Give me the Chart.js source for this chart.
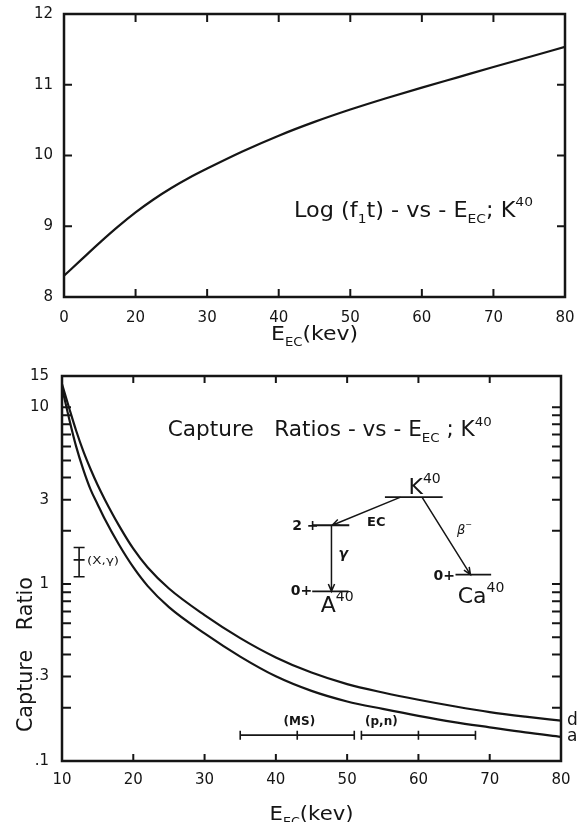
<!DOCTYPE html>
<html>
<head>
<meta charset="utf-8">
<script src="https://cdn.jsdelivr.net/npm/chart.js@4.4.0/dist/chart.umd.min.js"></script>
<style>
    html, body { margin: 0; padding: 0; background: #ffffff; }
    #topPanel { position: absolute; left: 0; top: 0; width: 579px; height: 360px; }
    #bottomPanel { position: absolute; left: 0; top: 345px; width: 579px; height: 477px; }
</style>
</head>
<body>
<div id="topPanel"><canvas id="ftChart" width="579" height="360"></canvas></div>
<div id="bottomPanel"><canvas id="ratioChart" width="579" height="477"></canvas></div>
<script>
// Top panel: Log(f1 t) vs E_EC
const ftEnergy = [10, 12.5, 15, 17.5, 20, 22.5, 25, 27.5, 30, 35, 40, 45, 50, 55, 60, 65, 70, 75, 80];
const ftLog = [8.30, 8.535, 8.768, 8.99, 9.195, 9.378, 9.54, 9.685, 9.815, 10.06, 10.28, 10.475, 10.65, 10.81, 10.96, 11.105, 11.25, 11.393, 11.535];
const ftXTicks = [10, 20, 30, 40, 50, 60, 70, 80];
const ftXLabels = ['0', '20', '30', '40', '50', '60', '70', '80'];
const ftYTicks = [8, 9, 10, 11, 12];
const ftYLabels = ['8', '9', '10', '11', '12'];

// Bottom panel: capture ratios d and a vs E_EC
const ratioEnergy = [10, 11, 12, 13, 14, 15, 16, 18, 20, 22, 25, 30, 35, 40, 45, 50, 55, 60, 65, 70, 75, 80];
const ratioD = [13.49, 9.89, 7.33, 5.62, 4.47, 3.63, 3.01, 2.14, 1.585, 1.245, 0.944, 0.668, 0.495, 0.385, 0.316, 0.272, 0.244, 0.222, 0.204, 0.189, 0.178, 0.169];
const ratioA = [12.88, 8.61, 5.96, 4.42, 3.43, 2.82, 2.33, 1.667, 1.245, 0.977, 0.741, 0.526, 0.389, 0.301, 0.249, 0.217, 0.197, 0.180, 0.166, 0.155, 0.145, 0.137];
const curveNames = ['d', 'a'];
const ratioXTicks = [10, 20, 30, 40, 50, 60, 70, 80];
const ratioXLabels = ['10', '20', '30', '40', '50', '60', '70', '80'];
const ratioYTicks = [0.1, 0.3, 1, 3, 10, 15];
const ratioYLabels = ['.1', '.3', '1', '3', '10', '15'];
const ratioYMarks = [0.2, 0.3, 0.4, 0.5, 0.6, 0.7, 0.8, 0.9, 1, 2, 3, 4, 5, 6, 7, 8, 9, 10];

// measured ranges (MS), (p,n) and the (X,gamma) point
const rangeNames = ['(MS)', '(p,n)'];
const rangeLow = [35, 52];
const rangeMid = [43, 60];
const rangeHigh = [51, 68];
const rangeNameX = [43.3, 54.8];
const rangeLevel = 0.14;
const xgEnergy = 12.4;
const xgLow = 1.10;
const xgMid = 1.37;
const xgHigh = 1.61;

// decay scheme of K40 (energy / ratio coordinates)
const levelX0 = [55.3, 45.2, 45.1, 65.2];
const levelX1 = [63.4, 50.3, 50.2, 70.2];
const levelY = [3.1, 2.15, 0.91, 1.13];
const arrowX0 = [57.5, 47.8, 60.5];
const arrowY0 = [3.1, 2.15, 3.1];
const arrowX1 = [47.9, 47.8, 67.3];
const arrowY1 = [2.15, 0.91, 1.13];

const ink = '#151515';
const face = '"DejaVu Sans", sans-serif';

// text with sub/superscripts, optionally squeezed to a width
function drawRich(ctx, parts, x, y, size, align, fitWidth, style) {
    const small = Math.round(size * 0.62);
    const fontFor = k => `${style || ''} ${k ? small : size}px ${face}`;
    let total = 0;
    const widths = parts.map(([t, k]) => {
        ctx.font = fontFor(k);
        const w = ctx.measureText(t).width;
        total += w;
        return w;
    });
    const sx = fitWidth ? fitWidth / total : 1;
    const start = align === 'center' ? -total * sx / 2 : (align === 'right' ? -total * sx : 0);
    ctx.save();
    ctx.translate(x + start, y);
    ctx.scale(sx, 1);
    ctx.fillStyle = ink;
    ctx.textAlign = 'left';
    ctx.textBaseline = 'alphabetic';
    let cx = 0;
    parts.forEach(([t, k], i) => {
        ctx.font = fontFor(k);
        const dy = k === 'sub' ? size * 0.28 : (k === 'sup' ? -size * 0.5 : 0);
        ctx.fillText(t, cx, dy);
        cx += widths[i];
    });
    ctx.restore();
}

// box round the plot with inward ticks
function drawFrame(chart, xMarks, yMarks, xLen, yLen) {
    const { ctx, chartArea: a, scales: { x, y } } = chart;
    ctx.save();
    ctx.strokeStyle = ink;
    ctx.lineWidth = 2.5;
    ctx.strokeRect(a.left, a.top, a.right - a.left, a.bottom - a.top);
    ctx.lineWidth = 2;
    ctx.beginPath();
    xMarks.forEach(v => {
        const px = x.getPixelForValue(v);
        ctx.moveTo(px, a.bottom); ctx.lineTo(px, a.bottom - xLen);
        ctx.moveTo(px, a.top); ctx.lineTo(px, a.top + xLen);
    });
    yMarks.forEach(v => {
        const py = y.getPixelForValue(v);
        ctx.moveTo(a.left, py); ctx.lineTo(a.left + yLen, py);
        ctx.moveTo(a.right, py); ctx.lineTo(a.right - yLen, py);
    });
    ctx.stroke();
    ctx.restore();
}

function drawArrow(ctx, x0, y0, x1, y1) {
    const ang = Math.atan2(y1 - y0, x1 - x0);
    const head = 8;
    ctx.beginPath();
    ctx.moveTo(x0, y0);
    ctx.lineTo(x1, y1);
    ctx.moveTo(x1 - head * Math.cos(ang - 0.4), y1 - head * Math.sin(ang - 0.4));
    ctx.lineTo(x1, y1);
    ctx.lineTo(x1 - head * Math.cos(ang + 0.4), y1 - head * Math.sin(ang + 0.4));
    ctx.stroke();
}

const baseFont = { family: face, size: 15 };

// ---------- top chart ----------
const topDecor = {
    id: 'topDecor',
    afterDraw(chart) {
        const { ctx, chartArea: a } = chart;
        drawFrame(chart, ftXTicks.slice(1, -1), ftYTicks.slice(1, -1), 8, 8);
        const w = a.right - a.left, h = a.bottom - a.top;
        drawRich(ctx, [['Log (f'], ['1', 'sub'], ['t) - vs - E'], ['EC', 'sub'], ['; K'], ['40', 'sup']],
            a.left + 0.459 * w, a.top + 0.716 * h, 21, 'left', 239);
        drawRich(ctx, [['E'], ['EC', 'sub'], ['(kev)']], a.left + 0.5 * w, a.bottom + 43, 20, 'center', 87);
    }
};

new Chart(document.getElementById('ftChart'), {
    type: 'line',
    data: {
        datasets: [{
            data: ftEnergy.map((e, i) => ({ x: e, y: ftLog[i] })),
            borderColor: ink,
            borderWidth: 2.2,
            pointRadius: 0,
            cubicInterpolationMode: 'monotone'
        }]
    },
    options: {
        responsive: false,
        devicePixelRatio: 1,
        animation: false,
        layout: { padding: { left: 0, top: 14, right: 14, bottom: 0 } },
        plugins: { legend: { display: false }, tooltip: { enabled: false } },
        scales: {
            x: {
                type: 'linear', min: 10, max: 80,
                grid: { display: false }, border: { display: false },
                afterBuildTicks: s => { s.ticks = ftXTicks.map(v => ({ value: v })); },
                afterFit: s => { s.height = 63; },
                ticks: { color: ink, font: baseFont, padding: 4, maxRotation: 0,
                    callback: (v, i) => ftXLabels[i] }
            },
            y: {
                min: 8, max: 12,
                grid: { display: false }, border: { display: false },
                afterBuildTicks: s => { s.ticks = ftYTicks.map(v => ({ value: v })); },
                afterFit: s => { s.width = 64; },
                ticks: { color: ink, font: baseFont, padding: 3,
                    callback: (v, i) => ftYLabels[i] }
            }
        }
    },
    plugins: [topDecor]
});

// ---------- bottom chart ----------
const bottomDecor = {
    id: 'bottomDecor',
    afterDraw(chart) {
        const { ctx, chartArea: a, scales: { x, y } } = chart;
        const w = a.right - a.left, h = a.bottom - a.top;
        drawFrame(chart, ratioXTicks.slice(1, -1), ratioYMarks, 7, 9);

        // titles
        drawRich(ctx, [['Capture   Ratios - vs - E'], ['EC', 'sub'], [' ; K'], ['40', 'sup']],
            a.left + 0.212 * w, a.top + 0.156 * h, 21, 'left', 324);
        drawRich(ctx, [['E'], ['EC', 'sub'], ['(kev)']], a.left + 0.5 * w, a.bottom + 59, 20, 'center', 84);
        ctx.save();
        ctx.translate(31.5, a.top + 0.7236 * h);
        ctx.rotate(-Math.PI / 2);
        drawRich(ctx, [['Capture   Ratio']], 0, 0, 21, 'center', 155);
        ctx.restore();

        // curve names at the right edge
        ctx.save();
        ctx.fillStyle = ink;
        ctx.font = `17px ${face}`;
        ctx.textAlign = 'left';
        ctx.textBaseline = 'middle';
        chart.data.datasets.forEach((ds, i) => {
            const last = ds.data[ds.data.length - 1];
            ctx.fillText(curveNames[i], a.right + 6, y.getPixelForValue(last.y));
        });
        ctx.restore();

        ctx.save();
        ctx.strokeStyle = ink;
        ctx.lineWidth = 1.6;
        // (MS) and (p,n) ranges
        const py = y.getPixelForValue(rangeLevel);
        rangeNames.forEach((name, i) => {
            const x0 = x.getPixelForValue(rangeLow[i]);
            const x1 = x.getPixelForValue(rangeHigh[i]);
            const xm = x.getPixelForValue(rangeMid[i]);
            ctx.beginPath();
            ctx.moveTo(x0, py); ctx.lineTo(x1, py);
            [x0, xm, x1].forEach(px => { ctx.moveTo(px, py - 4.5); ctx.lineTo(px, py + 4.5); });
            ctx.stroke();
            drawRich(ctx, [[name]], x.getPixelForValue(rangeNameX[i]), py - 10, 12, 'center', null, 'bold');
        });
        // (X,gamma) bar
        const gx = x.getPixelForValue(xgEnergy);
        const gy0 = y.getPixelForValue(xgLow), gy1 = y.getPixelForValue(xgHigh), gym = y.getPixelForValue(xgMid);
        ctx.beginPath();
        ctx.moveTo(gx, gy0); ctx.lineTo(gx, gy1);
        [gy0, gym, gy1].forEach(p => { ctx.moveTo(gx - 5.5, p); ctx.lineTo(gx + 5.5, p); });
        ctx.stroke();
        drawRich(ctx, [['(X,γ)']], gx + 8, gym + 4, 11, 'left', 32);

        // decay scheme
        ctx.lineWidth = 1.8;
        ctx.beginPath();
        levelY.forEach((lv, i) => {
            const ly = y.getPixelForValue(lv);
            ctx.moveTo(x.getPixelForValue(levelX0[i]), ly);
            ctx.lineTo(x.getPixelForValue(levelX1[i]), ly);
        });
        ctx.stroke();
        ctx.lineWidth = 1.5;
        arrowX0.forEach((ax, i) => {
            drawArrow(ctx, x.getPixelForValue(ax), y.getPixelForValue(arrowY0[i]),
                x.getPixelForValue(arrowX1[i]), y.getPixelForValue(arrowY1[i]));
        });
        ctx.restore();

        const at = (ex, ry) => [x.getPixelForValue(ex), y.getPixelForValue(ry)];
        let p;
        p = at(58.6, 3.21); drawRich(ctx, [['K'], ['40', 'sup']], p[0], p[1], 22, 'left');
        p = at(42.3, 2.01); drawRich(ctx, [['2 +']], p[0], p[1], 14, 'left', null, 'bold');
        p = at(52.8, 2.12); drawRich(ctx, [['EC']], p[0], p[1], 13, 'left', null, 'bold');
        p = at(48.8, 1.40); drawRich(ctx, [['γ']], p[0], p[1], 14, 'left', null, 'bold italic');
        p = at(42.1, 0.863); drawRich(ctx, [['0+']], p[0], p[1], 14, 'left', null, 'bold');
        p = at(46.3, 0.698); drawRich(ctx, [['A'], ['40', 'sup']], p[0], p[1], 22, 'left');
        p = at(62.1, 1.05); drawRich(ctx, [['0+']], p[0], p[1], 14, 'left', null, 'bold');
        p = at(65.5, 0.785); drawRich(ctx, [['Ca'], ['40', 'sup']], p[0], p[1], 22, 'left');
        p = at(65.4, 1.93); drawRich(ctx, [['β'], ['−', 'sup']], p[0], p[1], 13, 'left', null, 'italic');
    }
};

const curveStyle = {
    borderColor: ink,
    borderWidth: 2.2,
    pointRadius: 0,
    cubicInterpolationMode: 'monotone'
};

new Chart(document.getElementById('ratioChart'), {
    type: 'line',
    data: {
        datasets: [
            { label: curveNames[0], data: ratioEnergy.map((e, i) => ({ x: e, y: ratioD[i] })), ...curveStyle },
            { label: curveNames[1], data: ratioEnergy.map((e, i) => ({ x: e, y: ratioA[i] })), ...curveStyle }
        ]
    },
    options: {
        responsive: false,
        devicePixelRatio: 1,
        animation: false,
        layout: { padding: { left: 0, top: 31, right: 18, bottom: 0 } },
        plugins: { legend: { display: false }, tooltip: { enabled: false } },
        scales: {
            x: {
                type: 'linear', min: 10, max: 80,
                grid: { display: false }, border: { display: false },
                afterBuildTicks: s => { s.ticks = ratioXTicks.map(v => ({ value: v })); },
                afterFit: s => { s.height = 61; },
                ticks: { color: ink, font: baseFont, padding: 2, maxRotation: 0,
                    callback: (v, i) => ratioXLabels[i] }
            },
            y: {
                type: 'logarithmic', min: 0.1, max: 15,
                grid: { display: false }, border: { display: false },
                afterBuildTicks: s => { s.ticks = ratioYTicks.map(v => ({ value: v })); },
                afterFit: s => { s.width = 62; },
                ticks: { color: ink, font: baseFont, padding: 5,
                    callback: (v, i) => ratioYLabels[i] }
            }
        }
    },
    plugins: [bottomDecor]
});
</script>
</body>
</html>
